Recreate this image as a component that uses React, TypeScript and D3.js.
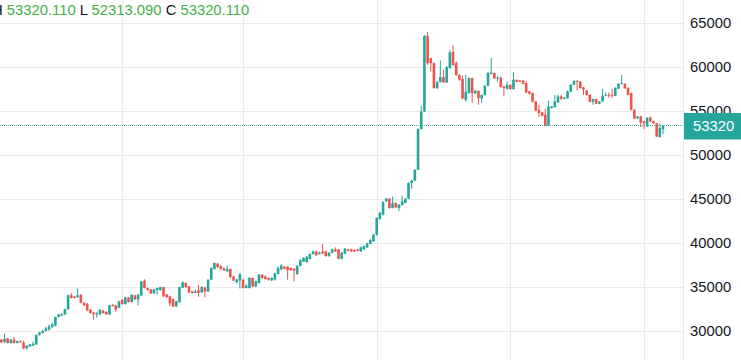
import React from 'react';
import * as d3 from 'd3';

// [open, high, low, close]
const candles: [number, number, number, number][] = [
  [28978, 29050, 28600, 28670], [28700, 29660, 28650, 29060], [29120, 29200, 28550, 28600], [28600, 29050, 28550, 28980],
  [28980, 29280, 28550, 28600], [28600, 28900, 28550, 28800], [28830, 28900, 28650, 28700], [28650, 28850, 27900, 27990],
  [27990, 28350, 27840, 28300], [28220, 28500, 28150, 28440], [28300, 28750, 28250, 28520], [28440, 29550, 28400, 29510],
  [29510, 29850, 29450, 29800], [29740, 30100, 29700, 29970], [29970, 30450, 29900, 30260], [30110, 30700, 30000, 30490],
  [30420, 30900, 30300, 30720], [30570, 31600, 30500, 31560], [31560, 31900, 31500, 31850], [31700, 32000, 31650, 31850],
  [31850, 32500, 31800, 32460], [32430, 34100, 32400, 34030], [34030, 34280, 33650, 33720], [33900, 33950, 33650, 33720],
  [33800, 34800, 33750, 34030], [34100, 34150, 33100, 33180], [33180, 33250, 32800, 32880], [33070, 33150, 32250, 32300],
  [32390, 32450, 31950, 32010], [32080, 32150, 31250, 31850], [31850, 32150, 31480, 32000], [31850, 32450, 31800, 32390],
  [32300, 32350, 31950, 32000], [32160, 32200, 31800, 31850], [31850, 32950, 31800, 32880], [32950, 33000, 32750, 32800],
  [32880, 32950, 32160, 32390], [32600, 33400, 32550, 33340],
  [33490, 33600, 32950, 33030], [33030, 33850, 32950, 33780], [33780, 33850, 33200, 33260], [33260, 34150, 33200, 34090],
  [34010, 34100, 33500, 33560], [33560, 34200, 32880, 34090], [34010, 35650, 33950, 35600], [35680, 35830, 34800, 34850],
  [34850, 34900, 34550, 34620], [34690, 34750, 34150, 34240], [34240, 34770, 34200, 34690], [34620, 34900, 34090, 34850],
  [34620, 35000, 34550, 34960], [34950, 35000, 33850, 33900], [34100, 34200, 33750, 33800], [33900, 33950, 32800, 33100],
  [33600, 33700, 32700, 32750], [32760, 33400, 32700, 33330], [33220, 35000, 33200, 34960], [34880, 35600, 34850, 35490],
  [35420, 35500, 34900, 34960], [35030, 35100, 34300, 34350], [34460, 34550, 34200, 34280], [34280, 34700, 34250, 34460],
  [34600, 35200, 33850, 34300], [34350, 35050, 34300, 34960], [34900, 35000, 33800, 34450], [34460, 35850, 34400, 35790],
  [35790, 37200, 35750, 37120], [37010, 37760, 36950, 37690], [37610, 37700, 37150, 37240], [37310, 37450, 36950, 37010],
  [37080, 37200, 36800, 36850], [36740, 37400, 36700, 37010], [37010, 37050, 35950, 36100], [36150, 36250, 35650, 35700],
  [35500, 35900, 35400, 35800], [35700, 36600, 34800, 36400], [35800, 35900, 34800, 34850], [34850, 35300, 34800, 35100],
  [34850, 36100, 34800, 35990], [35990, 36050, 34950, 35030], [35030, 35700, 34950, 35600], [35420, 36450, 35350, 36360],
  [36360, 36450, 35900, 35990], [36170, 36250, 35800, 35870], [35990, 36050, 35700, 35790], [35720, 36100, 35650, 35990],
  [35800, 36600, 35700, 36500], [36440, 37300, 36400, 37120], [36960, 37550, 36900, 37420], [37270, 37350, 36950, 37040],
  [37270, 37350, 35800, 36890], [37120, 37200, 36800, 36890], [37040, 37150, 35600, 36810], [36440, 37450, 36350, 37350],
  [37350, 38100, 37300, 38030], [37840, 38350, 37800, 38260], [37800, 38500, 37750, 38410], [38150, 38800, 38100, 38710],
  [38710, 39100, 38650, 39010], [39010, 39100, 38500, 38560], [38710, 39000, 38650, 38860], [39010, 39850, 38700, 38790],
  [39010, 39100, 38400, 38480], [38480, 38950, 38400, 38860], [38860, 39300, 38800, 39240], [39240, 39470, 38950, 39010],
  [39240, 39300, 38100, 38180], [38180, 38950, 38100, 38860], [38750, 39400, 38700, 39320], [39240, 39300, 39000, 39090],
  [39240, 39300, 38950, 39010], [39170, 39250, 38950, 39010], [39240, 39300, 39000, 39090], [39010, 39550, 38950, 39470],
  [39240, 39700, 39200, 39620], [39470, 40000, 39400, 39920], [39850, 40400, 39800, 40300], [40150, 41000, 40100, 40910],
  [40900, 42900, 40800, 42800], [42700, 43500, 42600, 43400], [43180, 44700, 43100, 44620], [44700, 45100, 44650, 45000],
  [45000, 45050, 43850, 43940], [43940, 45230, 43900, 44510], [44510, 44550, 43950, 44010], [43940, 44400, 43560, 44320],
  [44270, 45340, 44200, 44690], [44510, 45100, 44450, 45000], [45000, 46850, 44950, 46780], [46780, 47100, 46130, 47040],
  [47040, 48350, 47000, 48290], [48290, 53000, 48250, 52910], [52910, 55560, 52850, 54910], [54910, 63600, 54850, 63510],
  [63510, 63930, 60200, 60410], [60980, 61000, 59460, 60410], [60410, 60500, 57500, 57570],
  [57570, 58400, 57450, 58250], [58250, 60710, 58200, 58820], [58820, 59680, 58150, 58210], [58210, 60050, 58150, 59960],
  [59840, 61920, 59800, 61620], [61700, 62460, 60100, 60190], [60410, 60600, 58950, 59050], [59050, 59150, 58400, 58510],
  [58600, 59000, 56300, 56400], [56240, 59080, 56050, 57150], [57000, 58800, 56950, 58710], [58710, 58750, 55870, 57000],
  [56970, 57350, 56900, 57260], [57260, 57300, 55670, 56430], [56390, 56850, 55870, 56780], [56780, 57900, 56700, 57830],
  [57830, 59400, 57800, 59280], [59200, 61010, 59100, 59340], [59280, 59350, 58600, 58660], [58660, 58970, 58320, 58750],
  [58740, 58900, 57650, 57690],
  [57750, 57800, 56620, 57570], [57460, 58320, 57400, 57950], [57950, 58000, 57400, 57460], [57460, 59340, 57400, 58510],
  [58510, 58550, 58200, 58290], [58430, 58500, 58250, 58290], [58430, 58500, 58000, 58060], [58140, 58370, 57000, 57070],
  [57190, 57250, 56850, 56920], [57000, 57050, 55950, 56020], [56020, 56100, 54950, 55030], [55110, 55670, 54280, 54730],
  [54800, 54850, 54350, 54420], [54540, 55190, 53250, 53290], [53290, 56130, 53250, 55480], [55300, 55550, 55250, 55480],
  [55410, 56810, 55350, 56050], [55940, 56810, 55900, 56620], [56620, 56810, 56250, 56320], [56390, 56550, 56300, 56470],
  [56400, 57300, 56350, 57200], [57150, 58000, 57100, 57950], [57950, 58450, 57900, 58400], [58400, 58450, 57300, 58300],
  [58290, 58350, 57500, 57570], [57650, 57700, 56780, 57380], [57300, 57350, 56700, 56780], [56810, 56850, 55950, 56020],
  [56020, 56400, 55670, 56320], [56320, 56350, 55750, 55790], [55790, 56100, 55750, 56050], [56050, 57490, 56000, 56700],
  [56700, 57070, 56650, 56810], [56810, 57070, 56470, 56700], [56770, 57490, 56470, 56700], [56690, 57650, 56650, 57600],
  [57490, 58100, 57450, 58060], [58060, 59080, 58000, 58140], [58060, 58100, 57500, 57530], [57600, 57650, 56750, 56810],
  [57000, 57050, 55050, 55110], [55110, 55150, 54050, 54120], [54120, 54400, 54050, 54350], [54350, 54400, 53140, 53660],
  [53780, 53850, 52910, 53580], [53210, 54250, 53150, 54200], [54200, 54350, 53700, 53780], [53820, 53850, 53500, 53580],
  [53580, 53620, 52000, 52070], [52000, 53520, 51950, 53030], [52900, 53320.11, 52313.09, 53320.11],
];

const priceTicks = [30000, 35000, 40000, 45000, 50000, 55000, 60000, 65000];
const timeGridBars = [38, 76, 118, 160, 202];
const lastPrice = 53320.11;
const legendItems = [
  { label: 'H', value: '53320.110' },
  { label: 'L', value: '52313.090' },
  { label: 'C', value: '53320.110' },
];

const UP = '#26a69a';
const DOWN = '#ef5350';
const GRID = '#ebebee';
const TEXT = '#131722';
const LEGEND_VAL = '#45b04a';
const FONT = "'Liberation Sans', Arial, sans-serif";

export default function App() {
  const W = 741;
  const H = 360;
  const axisX = 683.5;
  const x = d3.scaleLinear().domain([0, candles.length - 1]).range([1.3, 663]);
  const y = d3.scaleLinear().domain([30000, 65000]).range([330.7, 22.7]);
  const bodyW = 2.6;
  const py = y(lastPrice);

  return (
    <svg width={W} height={H} style={{ position: 'absolute', left: 0, top: 0, background: '#fff' }}>
      <rect x={0} y={0} width={W} height={H} fill="#ffffff" />
      {priceTicks.map((t) => (
        <line key={'h' + t} x1={0} x2={axisX} y1={Math.round(y(t)) + 0.5} y2={Math.round(y(t)) + 0.5} stroke={GRID} strokeWidth={1} />
      ))}
      {timeGridBars.map((b) => (
        <line key={'v' + b} x1={Math.round(x(b)) + 0.5} x2={Math.round(x(b)) + 0.5} y1={0} y2={H} stroke={GRID} strokeWidth={1} />
      ))}
      {candles.map((c, i) => {
        const [o, h, l, cl] = c;
        const col = cl >= o ? UP : DOWN;
        const cx = x(i);
        const top = y(Math.max(o, cl));
        const bot = y(Math.min(o, cl));
        return (
          <g key={i}>
            <line x1={cx} x2={cx} y1={y(h)} y2={y(l)} stroke={col} strokeWidth={1} />
            <rect x={cx - bodyW / 2} y={top} width={bodyW} height={Math.max(1, bot - top)} fill={col} />
          </g>
        );
      })}
      <line x1={0} x2={axisX} y1={Math.round(py) + 0.5} y2={Math.round(py) + 0.5} stroke={UP} strokeWidth={1} strokeDasharray="1 1" opacity={0.85} />
      <line x1={axisX} x2={axisX} y1={0} y2={H} stroke={GRID} strokeWidth={1} />
      {priceTicks.map((t) => (
        <text key={'t' + t} x={690} y={y(t) + 5.3} fontFamily={FONT} fontSize={14.8} fill={TEXT}>
          {t}
        </text>
      ))}
      <rect x={684} y={py - 12.5} width={W - 684} height={26.5} fill={UP} />
      <text x={693} y={py + 5.6} fontFamily={FONT} fontSize={14.8} fill="#ffffff">
        {Math.round(lastPrice)}
      </text>
      <text x={-8} y={15} fontFamily={FONT} fontSize={14.8} style={{ whiteSpace: 'pre' }}>
        {legendItems.map((it, k) => (
          <React.Fragment key={it.label}>
            <tspan fill={TEXT}>{(k === 0 ? '' : ' ') + it.label}</tspan>
            <tspan fill={LEGEND_VAL}>{' ' + it.value}</tspan>
          </React.Fragment>
        ))}
      </text>
    </svg>
  );
}
